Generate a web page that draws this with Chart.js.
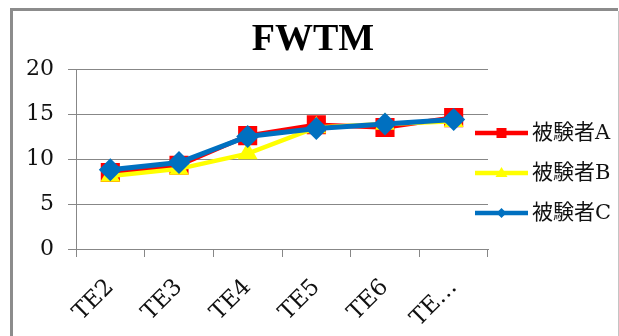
<!DOCTYPE html>
<html>
<head>
<meta charset="utf-8">
<script src="https://cdn.jsdelivr.net/npm/chart.js@4.4.1/dist/chart.umd.min.js"></script>
<style>
  html, body { margin: 0; padding: 0; background: #fff; overflow: hidden; }
  #c { display: block; }
</style>
</head>
<body>
<canvas id="c" width="619" height="336"></canvas>
<script>
// FWTM per subject across TE settings
const categories = ['TE2', 'TE3', 'TE4', 'TE5', 'TE6', 'TE…'];
const seriesNames = ['被験者A', '被験者B', '被験者C'];
const subjectA = [8.5, 9.3, 12.6, 13.8, 13.5, 14.6];
const subjectB = [8.1, 8.9, 10.6, 13.5, 13.9, 14.2];
const subjectC = [8.8, 9.6, 12.5, 13.4, 13.9, 14.4];
const yTicks = [0, 5, 10, 15, 20];
const titleText = 'FWTM';

const SERIF = '"DejaVu Serif", "Noto Sans CJK JP", serif';
const GRID = '#878787';

// Outer frame, title centred over the frame, legend at the right
const decorations = {
  id: 'decorations',
  beforeDraw(chart) {
    const ctx = chart.ctx;
    ctx.save();
    ctx.fillStyle = '#fff';
    ctx.fillRect(0, 0, chart.width, chart.height);
    ctx.strokeStyle = '#8c8c8c';
    ctx.lineWidth = 3;
    ctx.beginPath();
    ctx.moveTo(11.5, chart.height);
    ctx.lineTo(11.5, 9.5);
    ctx.lineTo(618, 9.5);
    ctx.stroke();
    ctx.strokeStyle = '#c4c4c4';
    ctx.lineWidth = 1;
    ctx.beginPath();
    ctx.moveTo(618.5, 11);
    ctx.lineTo(618.5, chart.height);
    ctx.stroke();
    ctx.restore();
  },
  afterDraw(chart) {
    const ctx = chart.ctx;
    const area = chart.chartArea;
    ctx.save();
    ctx.fillStyle = '#000';
    ctx.font = 'bold 38px "Liberation Serif", serif';
    ctx.textAlign = 'center';
    ctx.textBaseline = 'alphabetic';
    ctx.fillText(titleText, 313, 50);

    const x0 = area.right - 13, x1 = area.right + 40;
    const xm = (x0 + x1) / 2;
    const rowY = [133, 173, 213];
    chart.data.datasets.forEach((ds, i) => {
      const y = rowY[i];
      ctx.strokeStyle = ds.borderColor;
      ctx.lineWidth = 4.5;
      ctx.beginPath();
      ctx.moveTo(x0, y);
      ctx.lineTo(x1, y);
      ctx.stroke();
      ctx.fillStyle = ds.borderColor;
      ctx.beginPath();
      if (ds.pointStyle === 'rect') {
        ctx.rect(xm - 5, y - 5, 10, 10);
      } else if (ds.pointStyle === 'triangle') {
        ctx.moveTo(xm, y - 6);
        ctx.lineTo(xm + 6, y + 4);
        ctx.lineTo(xm - 6, y + 4);
        ctx.closePath();
      } else {
        ctx.moveTo(xm, y - 5);
        ctx.lineTo(xm + 5, y);
        ctx.lineTo(xm, y + 5);
        ctx.lineTo(xm - 5, y);
        ctx.closePath();
      }
      ctx.fill();
      ctx.fillStyle = '#111';
      ctx.font = '21px ' + SERIF;
      ctx.textAlign = 'left';
      ctx.textBaseline = 'middle';
      ctx.fillText(ds.label, x1 + 4, y + 1);
    });
    ctx.restore();
  }
};

new Chart(document.getElementById('c'), {
  type: 'line',
  data: {
    labels: categories,
    datasets: [
      {
        label: seriesNames[0], data: subjectA, order: 3,
        borderColor: '#ff0000', backgroundColor: '#ff0000',
        borderWidth: 4.5, pointStyle: 'rect', pointRadius: 13.5,
        pointBorderWidth: 0, pointBackgroundColor: '#ff0000'
      },
      {
        label: seriesNames[1], data: subjectB, order: 2,
        borderColor: '#ffff00', backgroundColor: '#ffff00',
        borderWidth: 4.5, pointStyle: 'triangle', pointRadius: 11.5,
        pointBorderWidth: 0, pointBackgroundColor: '#ffff00'
      },
      {
        label: seriesNames[2], data: subjectC, order: 1,
        borderColor: '#0070c0', backgroundColor: '#0070c0',
        borderWidth: 5, pointStyle: 'rectRot', pointRadius: 11.5,
        pointBorderWidth: 0, pointBackgroundColor: '#0070c0'
      }
    ]
  },
  options: {
    responsive: false,
    animation: false,
    devicePixelRatio: 1,
    layout: { padding: { left: 0, right: 131, top: 69, bottom: 0 } },
    plugins: {
      legend: { display: false },
      tooltip: { enabled: false },
      title: { display: false }
    },
    scales: {
      x: {
        offset: true,
        grid: {
          offset: true, drawOnChartArea: false, drawTicks: true,
          tickLength: 8, color: GRID, lineWidth: 1
        },
        border: { display: true, color: GRID, width: 1 },
        ticks: {
          color: '#111', maxRotation: 45, minRotation: 45, padding: 17,
          font: { family: SERIF, size: 23 }, autoSkip: false
        },
        afterFit(scale) { scale.height = 87; }
      },
      y: {
        min: 0, max: 20,
        afterBuildTicks(scale) { scale.ticks = yTicks.map(v => ({ value: v })); },
        grid: { color: GRID, lineWidth: 1, tickLength: 8, drawTicks: true },
        border: { display: true, color: GRID, width: 1 },
        ticks: {
          color: '#111', padding: 14,
          font: { family: SERIF, size: 22 }
        },
        afterFit(scale) { scale.width = 76; }
      }
    }
  },
  plugins: [decorations]
});
</script>
</body>
</html>
